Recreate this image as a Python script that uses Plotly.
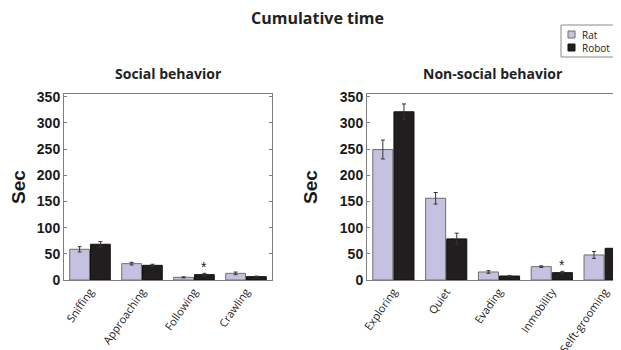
import plotly.graph_objects as go

social_cats = ["Sniffing", "Approaching", "Following", "Crawling"]
social_rat = [58.6, 31.2, 5.1, 12.7]
social_rat_err = [5, 2.5, 1, 2.5]
social_robot = [68.2, 28, 10.2, 6.4]
social_robot_err = [5, 2, 2.5, 1]
social_sig = [False, False, True, False]

nonsocial_cats = ["Exploring", "Quiet", "Evading", "Inmobility", "Selft-grooming"]
nonsocial_rat = [249, 156, 15.3, 25.5, 47.8]
nonsocial_rat_err = [18, 11, 2.5, 1.5, 6.5]
nonsocial_robot = [321, 78.4, 7.6, 14, 60.5]
nonsocial_robot_err = [15, 11, 1, 2.5, 5.7]
nonsocial_sig = [False, False, False, True, False]

series_names = ["Rat", "Robot"]
y_ticks = [0, 50, 100, 150, 200, 250, 300, 350]

RAT = "#c5c2e1"
ROBOT = "#221e1f"
FRAME = "#7f7f7f"

# the page body has an 8px margin: figure is drawn at (8, 8) in the window
OFF = 8
W, H = 621 - OFF, 350 - OFF
T = 94 - OFF
B = H - (280 - OFF)
PH = H - T - B

def px(p):
    return (p - OFF) / W

def py(p):
    return (H - B - (p - OFF)) / PH

fig = go.Figure()

def add_panel(rat, rat_err, robot, robot_err, xa, ya):
    idx = list(range(len(rat)))
    fig.add_trace(go.Bar(
        x=idx, y=rat, name=series_names[0], xaxis=xa, yaxis=ya, showlegend=False,
        marker=dict(color=RAT, line=dict(color="#6e6e6e", width=1)),
        error_y=dict(type="data", array=rat_err, color="#333333", thickness=1, width=2),
    ))
    fig.add_trace(go.Bar(
        x=idx, y=robot, name=series_names[1], xaxis=xa, yaxis=ya, showlegend=False,
        marker=dict(color=ROBOT, line=dict(color="#111111", width=1)),
        error_y=dict(type="data", array=robot_err, color="#333333", thickness=1, width=2),
    ))

add_panel(social_rat, social_rat_err, social_robot, social_robot_err, "x", "y")
add_panel(nonsocial_rat, nonsocial_rat_err, nonsocial_robot, nonsocial_robot_err, "x2", "y2")

# significance stars
for robot, err, sig, xr, yr in [
    (social_robot, social_robot_err, social_sig, "x", "y"),
    (nonsocial_robot, nonsocial_robot_err, nonsocial_sig, "x2", "y2"),
]:
    for i, s in enumerate(sig):
        if s:
            fig.add_annotation(x=i + 0.2, y=robot[i] + err[i], xref=xr, yref=yr,
                               text="*", showarrow=False, yanchor="bottom", yshift=-4,
                               font=dict(family="Liberation Sans", size=14, color="#222"))

left_dom = [px(64), px(272)]
right_dom = [px(367), 1.0]
n_left = len(social_cats)
n_right = len(nonsocial_cats)
right_max = -0.5 + (621 - 367) / 52.8

cat_font = dict(family="Open Sans", size=11, color="#222")
ytick_font = dict(family="Liberation Sans", size=14, color="#1a1a1a", weight="bold")

def xaxis_main(cats, dom, rng, anchor):
    return dict(domain=dom, range=rng, anchor=anchor, tickmode="array",
                tickvals=list(range(len(cats))), ticktext=cats, ticks="", tickangle=-55,
                tickfont=cat_font, automargin=False,
                showline=True, linecolor=FRAME, linewidth=1, mirror=True,
                showgrid=False, zeroline=False, fixedrange=True)

def xaxis_ticks(n, overlay, rng, dom, anchor):
    return dict(overlaying=overlay, range=rng, domain=dom, anchor=anchor, tickmode="array",
                tickvals=[i + 0.5 for i in range(n)],
                ticks="inside", ticklen=4, tickcolor=FRAME, mirror="ticks", automargin=False,
                showticklabels=False, showline=False, showgrid=False, zeroline=False)

def yaxis(anchor, mirror):
    return dict(domain=[0, 1], anchor=anchor, range=[0, 355], tickmode="array", tickvals=y_ticks,
                ticks="inside", ticklen=3, tickcolor=FRAME, tickfont=ytick_font,
                showline=True, linecolor=FRAME, linewidth=1, mirror=mirror,
                showgrid=False, zeroline=False, automargin=False,
                title=dict(text="Sec", standoff=17,
                           font=dict(family="Liberation Sans", size=19, color="#1a1a1a", weight="bold")))

lrange = [-0.5, n_left - 0.5]
rrange = [-0.5, right_max]

fig.update_layout(
    width=W, height=H,
    margin=dict(l=0, r=0, t=T, b=B, autoexpand=False),
    paper_bgcolor="white", plot_bgcolor="white",
    barmode="group", bargap=0.2, bargroupgap=0.05,
    xaxis=xaxis_main(social_cats, left_dom, lrange, "y"),
    xaxis2=xaxis_main(nonsocial_cats, right_dom, rrange, "y2"),
    xaxis3=xaxis_ticks(n_left - 1, "x", lrange, left_dom, "y"),
    xaxis4=xaxis_ticks(n_right, "x2", rrange, right_dom, "y2"),
    yaxis=yaxis("x", "ticks"),
    yaxis2=yaxis("x2", False),
    showlegend=False,
)

# legend box
fig.add_shape(type="rect", xref="paper", yref="paper", x0=px(561), x1=px(619), y0=py(57), y1=py(25),
              line=dict(color="#8a8a8a", width=1), fillcolor="white")
for k, (name, col, lc) in enumerate([(series_names[0], RAT, "#6e6e6e"), (series_names[1], ROBOT, "#111111")]):
    yc = 34.5 + 13 * k
    fig.add_shape(type="rect", xref="paper", yref="paper", x0=px(568), x1=px(575),
                  y0=py(yc + 3.5), y1=py(yc - 3.5), line=dict(color=lc, width=1), fillcolor=col)
    fig.add_annotation(text=name, x=px(580), y=py(yc), xref="paper", yref="paper", showarrow=False,
                       xanchor="left", yanchor="middle", height=12,
                       font=dict(family="Open Sans", size=10, color="#222"))

# titles
title_font = dict(family="Open Sans", size=16, color="#222", weight="bold")
sub_font = dict(family="Open Sans", size=14, color="#222", weight="bold")
fig.add_annotation(text="Cumulative time", x=px(317), y=py(18), xref="paper", yref="paper",
                   showarrow=False, font=title_font, xanchor="center", yanchor="middle")
fig.add_annotation(text="Social behavior", x=px(168), y=py(73), xref="paper", yref="paper",
                   showarrow=False, font=sub_font, xanchor="center", yanchor="middle")
fig.add_annotation(text="Non-social behavior", x=px(493), y=py(73), xref="paper", yref="paper",
                   showarrow=False, font=sub_font, xanchor="center", yanchor="middle")

fig.write_html("out.html")
